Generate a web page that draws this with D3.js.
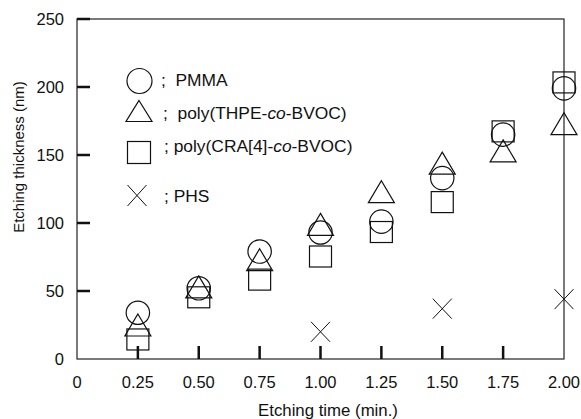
<!DOCTYPE html>
<html><head><meta charset="utf-8">
<script src="https://cdn.jsdelivr.net/npm/d3@7"></script>
<style>
body{margin:0;background:#fff}
text{font-family:"Liberation Sans",Arial,sans-serif;fill:#111}
</style>
</head><body>
<svg id="c" width="581" height="419"></svg>
<script>
// ---- data ----
const times = [0.25, 0.50, 0.75, 1.00, 1.25, 1.50, 1.75, 2.00];
const pmma  = [34, 52, 79, 93, 101, 133, 165, 199];
const thpe  = [25, 53, 73, 99, 123, 144, 153, 173];
const cra   = [14, 45, 58, 75, 93, 115, 167, 203];
const phsTimes = [1.00, 1.50, 2.00];
const phs   = [20, 37, 44];
const xTickLabels = ["0","0.25","0.50","0.75","1.00","1.25","1.50","1.75","2.00"];
const xTickValues = [0, 0.25, 0.5, 0.75, 1.0, 1.25, 1.5, 1.75, 2.0];
const yTickValues = [0, 50, 100, 150, 200, 250];

// ---- layout ----
const L = 77, R = 564, T = 19, B = 359;
const svg = d3.select("#c");
const x = d3.scaleLinear().domain([0, 2]).range([L, R]);
const y = d3.scaleLinear().domain([0, 250]).range([B, T]);
const ink = "#111";

// frame
svg.append("rect").attr("x", L).attr("y", T).attr("width", R - L).attr("height", B - T)
  .attr("fill", "none").attr("stroke", "#222").attr("stroke-width", 1.2);

// x ticks (inside) + labels
svg.selectAll(".xt").data(xTickValues.filter(v => v > 0 && v < 2)).enter().append("line")
  .attr("x1", d => x(d)).attr("x2", d => x(d)).attr("y1", B).attr("y2", B - 13)
  .attr("stroke", ink).attr("stroke-width", 2.5);
svg.selectAll(".xl").data(xTickValues).enter().append("text")
  .attr("x", d => x(d)).attr("y", 388).attr("text-anchor", "middle")
  .attr("font-size", 16.5).text((d, i) => xTickLabels[i]);

// y ticks (inside) + labels
svg.selectAll(".yt").data(yTickValues.filter(v => v > 0)).enter().append("line")
  .attr("x1", L).attr("x2", L + 13).attr("y1", d => y(d)).attr("y2", d => y(d))
  .attr("stroke", ink).attr("stroke-width", 2.5);
svg.selectAll(".yl").data(yTickValues).enter().append("text")
  .attr("x", 64).attr("y", d => y(d)).attr("dy", "0.36em").attr("text-anchor", "end")
  .attr("font-size", 16.5).text(d => d);

// axis titles
svg.append("text").attr("x", 328).attr("y", 416).attr("text-anchor", "middle")
  .attr("font-size", 16.8).text("Etching time (min.)");
svg.append("text").attr("transform", "translate(24,157) rotate(-90)").attr("text-anchor", "middle")
  .attr("font-size", 15).text("Etching thickness (nm)");

// marker drawing helpers
const sw = 1.2;
function circle(g, cx, cy, r) {
  g.append("circle").attr("cx", cx).attr("cy", cy).attr("r", r)
    .attr("fill", "none").attr("stroke", ink).attr("stroke-width", sw);
}
function tri(g, cx, cy, w, h) {
  g.append("path").attr("d", `M${cx},${cy - h / 2}L${cx + w / 2},${cy + h / 2}L${cx - w / 2},${cy + h / 2}Z`)
    .attr("fill", "none").attr("stroke", ink).attr("stroke-width", sw);
}
function sq(g, cx, cy, s) {
  g.append("rect").attr("x", cx - s / 2).attr("y", cy - s / 2).attr("width", s).attr("height", s - 1)
    .attr("fill", "none").attr("stroke", ink).attr("stroke-width", sw);
}
function cross(g, cx, cy, w, h) {
  g.append("path").attr("d", `M${cx - w / 2},${cy - h / 2}L${cx + w / 2},${cy + h / 2}M${cx + w / 2},${cy - h / 2}L${cx - w / 2},${cy + h / 2}`)
    .attr("fill", "none").attr("stroke", ink).attr("stroke-width", 1);
}

const g = svg.append("g");
cra.forEach((v, i) => sq(g, x(times[i]), y(v), 22));
pmma.forEach((v, i) => circle(g, x(times[i]), y(v), 11.7));
thpe.forEach((v, i) => tri(g, x(times[i]), y(v), 26, 22));
phs.forEach((v, i) => cross(g, x(phsTimes[i]), y(v), 19, 20));

// legend
const lg = svg.append("g");
circle(lg, 139.5, 81, 12.5);
tri(lg, 139, 111, 26, 21);
sq(lg, 139, 153, 23);
cross(lg, 137, 195.5, 19, 21);
const lf = 17.4;
function legText(xp, yp, parts) {
  const t = lg.append("text").attr("x", xp).attr("y", yp).attr("font-size", lf).attr("xml:space", "preserve");
  parts.forEach(p => { const s = t.append("tspan").text(p[0]); if (p[1]) s.attr("font-style", "italic"); });
}
legText(161, 86, [[";  PMMA"]]);
legText(163, 119, [[";  poly(THPE-"], ["co", true], ["-BVOC)"]]);
legText(164, 152, [["; poly(CRA[4]-"], ["co", true], ["-BVOC)"]]);
legText(164, 202, [["; PHS"]]);
</script>
</body></html>
